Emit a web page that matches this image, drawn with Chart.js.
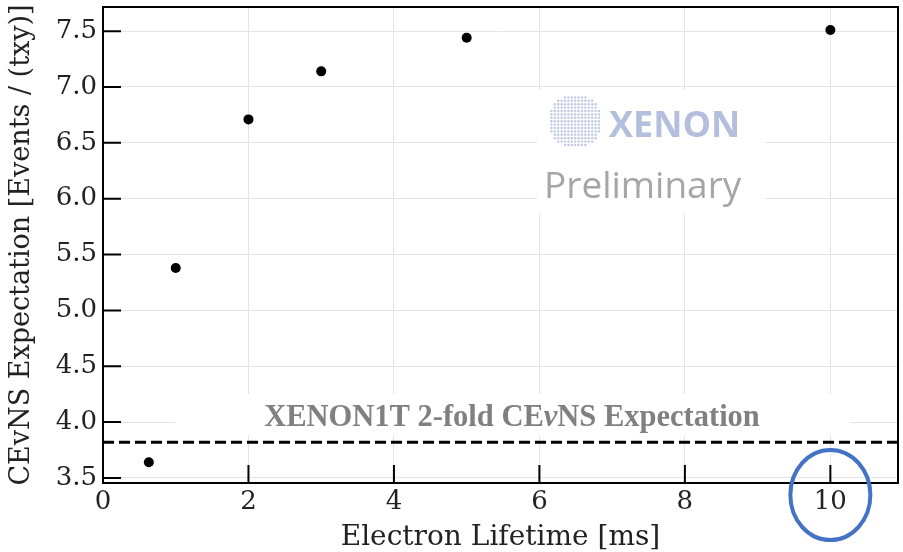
<!DOCTYPE html>
<html>
<head>
<meta charset="utf-8">
<script src="https://cdn.jsdelivr.net/npm/chart.js@4/dist/chart.umd.min.js"></script>
<style>
  html, body { margin: 0; padding: 0; background: #fff; }
  #wrap { width: 903px; height: 552px; }
</style>
</head>
<body>
<div id="wrap"><canvas id="chart"></canvas></div>
<script>
// electron lifetime [ms] vs CEvNS expectation
const lifetimes = [0.63, 1, 2, 3, 5, 10];
const expectations = [3.64, 5.38, 6.71, 7.14, 7.44, 7.51];
const xenon1tLevel = 3.82;

const xTicks = [0, 2, 4, 6, 8, 10];
const yTicks = [3.5, 4.0, 4.5, 5.0, 5.5, 6.0, 6.5, 7.0, 7.5];
const xRange = [0, 10.93];
const yRange = [3.455, 7.716];

const serif = "'DejaVu Serif', serif";

// white patches behind the annotations, frame, inward ticks
const decor = {
    id: "decor",
    beforeDatasetsDraw(chart) {
        const ctx = chart.ctx;
        ctx.save();
        ctx.fillStyle = "#fff";
        ctx.fillRect(537, 90, 228, 123);
        ctx.fillRect(175, 394, 675, 41);

        // dotted globe of the logo
        const cx = 575, cy = 121, r = 27, step = 3.4;
        ctx.fillStyle = "#c0c8e3";
        for (let y = cy - r; y <= cy + r; y += step) {
            for (let x = cx - r; x <= cx + r; x += step) {
                const d = Math.hypot(x - cx, y - cy);
                if (d > r) continue;
                ctx.beginPath();
                ctx.arc(x, y, 1.2, 0, Math.PI * 2);
                ctx.fill();
            }
        }
        ctx.fillStyle = "#b4bedd";
        ctx.font = "bold 36px 'Open Sans', sans-serif";
        ctx.textBaseline = "alphabetic";
        ctx.fillText("XENON", 609, 137);
        ctx.fillStyle = "#a6a6a6";
        ctx.font = "37px 'Open Sans', sans-serif";
        ctx.fillText("Preliminary", 544, 198);

        // label of the dashed line, with an italic nu
        const parts = [
            ["XENON1T 2-fold CE", "bold 30.5px 'Liberation Serif', serif"],
            ["ν", "italic bold 30.5px 'Liberation Serif', serif"],
            ["NS Expectation", "bold 30.5px 'Liberation Serif', serif"]
        ];
        let total = 0;
        parts.forEach(p => { ctx.font = p[1]; total += ctx.measureText(p[0]).width; });
        let x = 512 - total / 2;
        ctx.fillStyle = "#808080";
        parts.forEach(p => {
            ctx.font = p[1];
            ctx.fillText(p[0], x, 426);
            x += ctx.measureText(p[0]).width;
        });
        ctx.restore();
    },
    afterDraw(chart) {
        const {ctx, chartArea: a, scales} = chart;
        ctx.save();
        ctx.strokeStyle = "#000";
        ctx.lineWidth = 2;
        ctx.beginPath();
        xTicks.forEach(v => {
            const px = scales.x.getPixelForValue(v);
            ctx.moveTo(px, a.bottom);
            ctx.lineTo(px, a.bottom - 18);
        });
        yTicks.forEach(v => {
            const py = scales.y.getPixelForValue(v);
            ctx.moveTo(a.left, py);
            ctx.lineTo(a.left + 18, py);
        });
        ctx.stroke();
        ctx.strokeRect(a.left, a.top, a.right - a.left, a.bottom - a.top);

        // highlight round the 10 ms label
        ctx.strokeStyle = "#4472c4";
        ctx.lineWidth = 4;
        ctx.beginPath();
        ctx.ellipse(scales.x.getPixelForValue(10), 495, 40, 45, 0, 0, Math.PI * 2);
        ctx.stroke();
        ctx.restore();
    }
};

const noPad = s => {
    s.paddingTop = 0;
    s.paddingBottom = 0;
    s.paddingLeft = 0;
    s.paddingRight = 0;
};

new Chart(document.getElementById("chart"), {
    type: "scatter",
    data: {
        datasets: [
            {
                label: "Expectation",
                data: lifetimes.map((x, i) => ({x: x, y: expectations[i]})),
                backgroundColor: "#000",
                borderWidth: 0,
                pointRadius: 5,
                pointHoverRadius: 5
            },
            {
                label: "XENON1T",
                data: xRange.map(x => ({x: x, y: xenon1tLevel})),
                showLine: true,
                borderColor: "#000",
                borderWidth: 3,
                borderDash: [11, 5],
                pointRadius: 0
            }
        ]
    },
    options: {
        responsive: true,
        maintainAspectRatio: false,
        animation: false,
        layout: {padding: {top: 7, right: 4, left: 0, bottom: 0}},
        plugins: {legend: {display: false}, tooltip: {enabled: false}},
        scales: {
            x: {
                type: "linear",
                min: xRange[0],
                max: xRange[1],
                afterBuildTicks: s => { s.ticks = xTicks.map(v => ({value: v})); },
                afterFit: s => { s.height = 69; noPad(s); },
                grid: {color: "#e4e4e4", lineWidth: 1, drawTicks: false},
                border: {display: false},
                ticks: {color: "#222", padding: 4, font: {family: serif, size: 26}},
                title: {
                    display: true,
                    text: "Electron Lifetime [ms]",
                    color: "#222",
                    font: {family: serif, size: 28, lineHeight: 1},
                    padding: {top: 0, bottom: 0}
                }
            },
            y: {
                min: yRange[0],
                max: yRange[1],
                afterBuildTicks: s => { s.ticks = yTicks.map(v => ({value: v})); },
                afterFit: s => { s.width = 103; noPad(s); },
                grid: {color: "#e4e4e4", lineWidth: 1, drawTicks: false},
                border: {display: false},
                ticks: {
                    color: "#222",
                    padding: 6,
                    font: {family: serif, size: 26},
                    callback: v => v.toFixed(1)
                },
                title: {
                    display: true,
                    text: "CEvNS Expectation [Events / (txy)]",
                    color: "#222",
                    font: {family: serif, size: 27, lineHeight: 1},
                    padding: {top: 8, bottom: 0}
                }
            }
        }
    },
    plugins: [decor]
});
</script>
</body>
</html>
